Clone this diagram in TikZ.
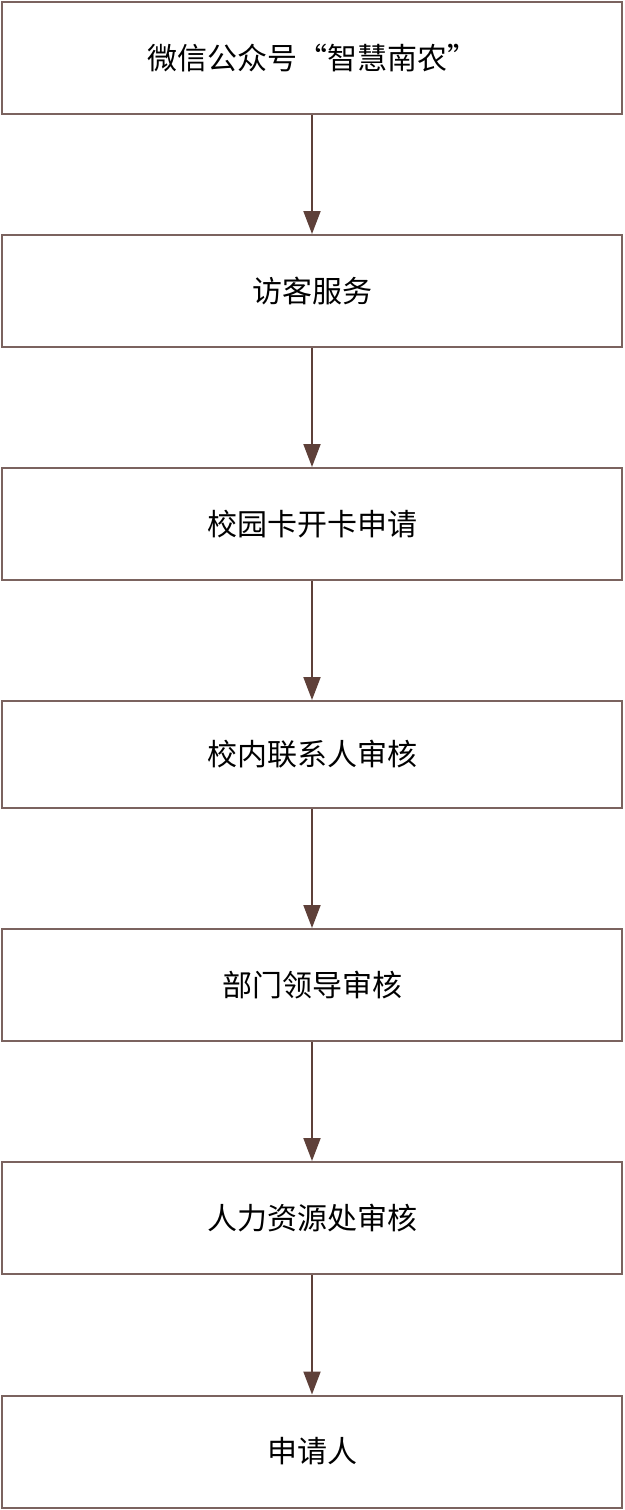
\documentclass[tikz,border=0pt]{standalone}
\usepackage{fontspec}
\setmainfont{Noto Sans CJK SC}
\usetikzlibrary{arrows.meta}
\definecolor{boxline}{HTML}{7B635F}
\definecolor{arrowline}{HTML}{5E4039}

\begin{document}
\begin{tikzpicture}[x=1pt,y=-1pt]
  \useasboundingbox (0,0) rectangle (624,1510);
  \tikzstyle {every node}=[draw=boxline,line width=2pt,minimum width=620pt,minimum height=112pt,inner sep=0pt,font=\fontsize{30}{36}\selectfont];
  \path (312,58) node (s1) {微信公众号“智慧南农”};
  \path (312,291) node (s2) {访客服务};
  \path (312,524) node (s3) {校园卡开卡申请};
  \path (312,754.5) node[minimum height=107pt] (s4) {校内联系人审核};
  \path (312,985) node (s5) {部门领导审核};
  \path (312,1218) node (s6) {人力资源处审核};
  \path (312,1451.5) node (s7) {申请人};

  \draw [arrowline,line width=2pt,-{Triangle[length=23pt,width=17pt]}]
        (s1) -- (s2);
  \draw [arrowline,line width=2pt,-{Triangle[length=23pt,width=17pt]}]
        (s2) -- (s3);
  \draw [arrowline,line width=2pt,-{Triangle[length=23pt,width=17pt]}]
        (s3) -- (s4);
  \draw [arrowline,line width=2pt,-{Triangle[length=23pt,width=17pt]}]
        (s4) -- (s5);
  \draw [arrowline,line width=2pt,-{Triangle[length=23pt,width=17pt]}]
        (s5) -- (s6);
  \draw [arrowline,line width=2pt,-{Triangle[length=23pt,width=17pt]}]
        (s6) -- (s7);
\end{tikzpicture}
\end{document}
